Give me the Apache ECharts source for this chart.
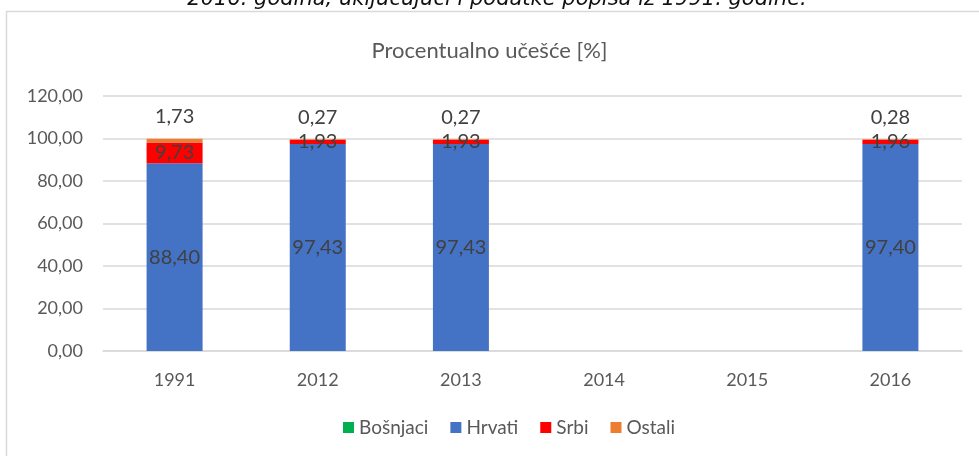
<!DOCTYPE html>
<html>
<head>
<meta charset="utf-8">
<script src="https://cdn.jsdelivr.net/npm/echarts@6/dist/echarts.min.js"></script>
<style>html,body{margin:0;padding:0;background:#fff;}#c{width:979px;height:456px;}</style>
</head>
<body>
<div id="c"></div>
<script>
const categories = ['1991', '2012', '2013', '2014', '2015', '2016'];
const bosnjaci = [null, null, null, null, null, null];
const hrvati = [88.40, 97.43, 97.43, null, null, 97.40];
const srbi = [9.73, 1.93, 1.93, null, null, 1.96];
const ostali = [1.73, 0.27, 0.27, null, null, 0.28];
const yTicks = [0, 20, 40, 60, 80, 100, 120];

const FONT = 'Lato';
const fmt = v => Number(v).toFixed(2).replace('.', ',');
const labelStyle = (pos, dist) => ({
  show: true, position: pos, distance: dist || 5,
  color: '#404040', fontFamily: FONT, fontSize: 20,
  formatter: p => (p.value == null ? '' : fmt(p.value))
});

const chart = echarts.init(document.getElementById('c'));
chart.setOption({
  animation: false,
  backgroundColor: '#fff',
  graphic: [
    { type: 'rect', shape: { x: 6.5, y: 11.5, width: 1100, height: 600 }, style: { fill: 'none', stroke: '#d9d9d9', lineWidth: 1.5 }, z: -1 },
    { type: 'text', x: 497, y: 10, style: { text: '2016. godina, uključujući i podatke popisa iz 1991. godine.', font: 'italic 21px "DejaVu Sans"', fill: '#111', align: 'center', verticalAlign: 'bottom' } }
  ],
  title: {
    text: 'Procentualno učešće [%]', left: 'center', top: 35,
    textStyle: { fontFamily: FONT, fontSize: 22, fontWeight: 'normal', color: '#595959' }
  },
  legend: {
    bottom: 14, left: 338, icon: 'rect', itemWidth: 11, itemHeight: 11, itemGap: 22,
    textStyle: { fontFamily: FONT, fontSize: 19, color: '#595959' },
    data: ['Bošnjaci', 'Hrvati', 'Srbi', 'Ostali']
  },
  grid: { left: 103, right: 17, top: 96, bottom: 105 },
  xAxis: {
    type: 'category', data: categories,
    axisLine: { lineStyle: { color: '#d9d9d9', width: 1.5 } },
    axisTick: { show: false },
    axisLabel: { color: '#595959', fontFamily: FONT, fontSize: 18, margin: 20 }
  },
  yAxis: {
    type: 'value', min: yTicks[0], max: yTicks[yTicks.length - 1], interval: 20,
    axisLine: { show: false }, axisTick: { show: false },
    splitLine: { lineStyle: { color: '#d9d9d9', width: 1.5 } },
    axisLabel: { color: '#595959', fontFamily: FONT, fontSize: 18, margin: 20, formatter: v => fmt(v) }
  },
  series: [
    { name: 'Bošnjaci', type: 'bar', stack: 't', barWidth: 56, data: bosnjaci, itemStyle: { color: '#00b050' } },
    { name: 'Hrvati', type: 'bar', stack: 't', barWidth: 56, data: hrvati, itemStyle: { color: '#4472c4' }, label: labelStyle('inside') },
    { name: 'Srbi', type: 'bar', stack: 't', barWidth: 56, data: srbi, itemStyle: { color: '#ff0000' }, label: labelStyle('inside') },
    { name: 'Ostali', type: 'bar', stack: 't', barWidth: 56, data: ostali, itemStyle: { color: '#ed7d31' }, label: labelStyle('top', 12) }
  ]
});
</script>
</body>
</html>
